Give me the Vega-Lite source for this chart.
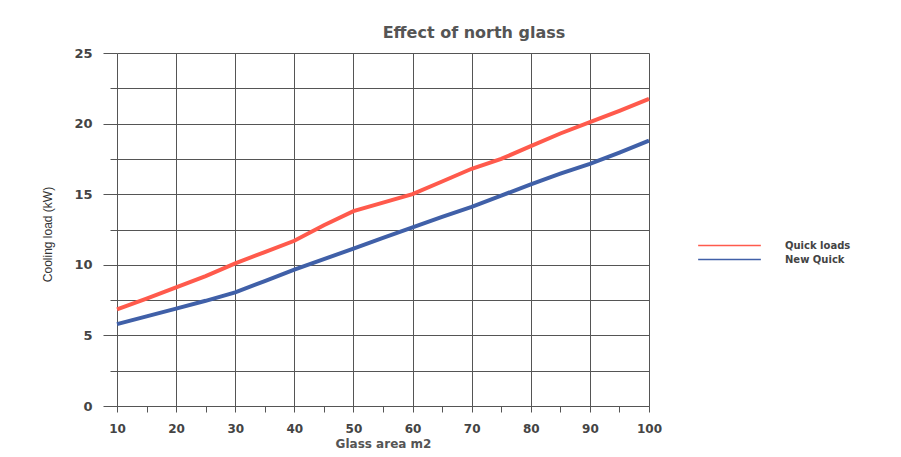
{
  "$schema": "https://vega.github.io/schema/vega-lite/v6.json",
  "width": 532,
  "height": 353,
  "autosize": {"type": "none"},
  "padding": {"left": 117, "top": 53, "right": 252, "bottom": 51},
  "background": "white",
  "title": {
    "text": "Effect of north glass",
    "font": "DejaVu Sans",
    "fontSize": 16,
    "fontWeight": "bold",
    "color": "#555555",
    "anchor": "middle",
    "dx": 91,
    "offset": 6
  },
  "config": {"view": {"stroke": null}},
  "data": {
    "values": [
      {"area": 10, "load": 6.85, "series": "Quick loads"},
      {"area": 15, "load": 7.6, "series": "Quick loads"},
      {"area": 20, "load": 8.4, "series": "Quick loads"},
      {"area": 25, "load": 9.2, "series": "Quick loads"},
      {"area": 30, "load": 10.1, "series": "Quick loads"},
      {"area": 35, "load": 10.9, "series": "Quick loads"},
      {"area": 40, "load": 11.7, "series": "Quick loads"},
      {"area": 45, "load": 12.8, "series": "Quick loads"},
      {"area": 50, "load": 13.8, "series": "Quick loads"},
      {"area": 55, "load": 14.4, "series": "Quick loads"},
      {"area": 60, "load": 15.0, "series": "Quick loads"},
      {"area": 65, "load": 15.9, "series": "Quick loads"},
      {"area": 70, "load": 16.8, "series": "Quick loads"},
      {"area": 75, "load": 17.5, "series": "Quick loads"},
      {"area": 80, "load": 18.4, "series": "Quick loads"},
      {"area": 85, "load": 19.3, "series": "Quick loads"},
      {"area": 90, "load": 20.1, "series": "Quick loads"},
      {"area": 95, "load": 20.9, "series": "Quick loads"},
      {"area": 100, "load": 21.75, "series": "Quick loads"},
      {"area": 10, "load": 5.8, "series": "New Quick"},
      {"area": 15, "load": 6.35, "series": "New Quick"},
      {"area": 20, "load": 6.9, "series": "New Quick"},
      {"area": 25, "load": 7.45, "series": "New Quick"},
      {"area": 30, "load": 8.05, "series": "New Quick"},
      {"area": 35, "load": 8.85, "series": "New Quick"},
      {"area": 40, "load": 9.65, "series": "New Quick"},
      {"area": 45, "load": 10.4, "series": "New Quick"},
      {"area": 50, "load": 11.15, "series": "New Quick"},
      {"area": 55, "load": 11.9, "series": "New Quick"},
      {"area": 60, "load": 12.65, "series": "New Quick"},
      {"area": 65, "load": 13.4, "series": "New Quick"},
      {"area": 70, "load": 14.1, "series": "New Quick"},
      {"area": 75, "load": 14.9, "series": "New Quick"},
      {"area": 80, "load": 15.7, "series": "New Quick"},
      {"area": 85, "load": 16.45, "series": "New Quick"},
      {"area": 90, "load": 17.15, "series": "New Quick"},
      {"area": 95, "load": 17.95, "series": "New Quick"},
      {"area": 100, "load": 18.8, "series": "New Quick"}
    ]
  },
  "mark": {"type": "line", "strokeWidth": 4, "clip": false},
  "encoding": {
    "x": {
      "field": "area",
      "type": "quantitative",
      "scale": {"domain": [10, 100], "nice": false, "zero": false},
      "axis": {
        "title": "Glass area m2",
        "values": [10, 15, 20, 25, 30, 35, 40, 45, 50, 55, 60, 65, 70, 75, 80, 85, 90, 95, 100],
        "labelExpr": "datum.value % 10 === 0 ? datum.label : ''",
        "grid": true,
        "gridColor": "#555555",
        "gridWidth": 1,
        "gridOpacity": {"condition": {"test": "datum.value % 10 === 0", "value": 1}, "value": 0},
        "domainColor": "#555555",
        "tickColor": "#555555",
        "tickSize": 6,
        "labelPadding": 11,
        "labelFont": "DejaVu Sans",
        "labelFontWeight": "bold",
        "labelFontSize": 12,
        "labelColor": "#444444",
        "labelFlush": false,
        "labelOverlap": false,
        "titleFont": "DejaVu Sans",
        "titleFontWeight": "bold",
        "titleFontSize": 12,
        "titleColor": "#555555",
        "titleY": 32,
        "titleX": 266,
        "titleBaseline": "top"
      }
    },
    "y": {
      "field": "load",
      "type": "quantitative",
      "scale": {"domain": [0, 25], "nice": false},
      "axis": {
        "title": "Cooling load (kW)",
        "values": [0, 2.5, 5, 7.5, 10, 12.5, 15, 17.5, 20, 22.5, 25],
        "labelExpr": "datum.value % 5 === 0 ? datum.label : ''",
        "grid": true,
        "gridColor": "#555555",
        "gridWidth": 1,
        "domain": false,
        "tickColor": "#555555",
        "tickSize": {"condition": {"test": "datum.value % 5 === 0", "value": 14}, "value": 7},
        "labelPadding": 11,
        "labelFont": "DejaVu Sans",
        "labelFontWeight": "bold",
        "labelFontSize": 13,
        "labelColor": "#444444",
        "labelOverlap": false,
        "titleFont": "Liberation Sans",
        "titleFontWeight": "normal",
        "titleFontSize": 12,
        "titleColor": "#333333",
        "titleX": -63,
        "titleY": 181
      }
    },
    "color": {
      "field": "series",
      "type": "nominal",
      "scale": {"domain": ["Quick loads", "New Quick"], "range": ["#ff5a4c", "#4060a8"]},
      "legend": {
        "title": null,
        "orient": "none",
        "legendX": 606,
        "legendY": 186,
        "symbolType": "M-5.7,0H5.7",
        "symbolSize": 121,
        "symbolStrokeWidth": 1.5,
        "labelOffset": 49,
        "rowPadding": 2,
        "labelFont": "DejaVu Sans",
        "labelFontWeight": "bold",
        "labelFontSize": 10,
        "labelColor": "#444444"
      }
    }
  }
}
